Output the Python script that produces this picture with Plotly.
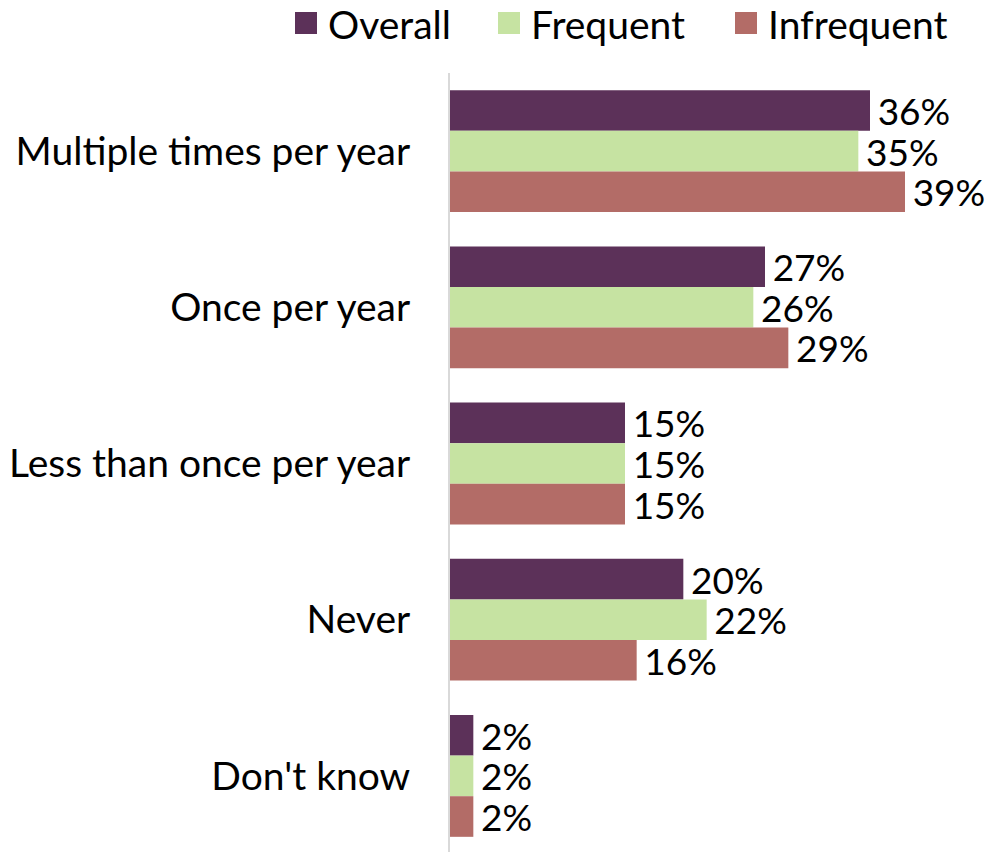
import plotly.graph_objects as go

# Dados
categories = ["Multiple times per year", "Once per year", "Less than once per year", "Never", "Don't know"]
series_names = ["Overall", "Frequent", "Infrequent"]
overall = [36, 27, 15, 20, 2]
frequent = [35, 26, 15, 22, 2]
infrequent = [39, 29, 15, 16, 2]

FONT = "Lato, Calibri, sans-serif"
LABEL_SIZE = 37
TICK_SIZE = 39
LEGEND_SIZE = 39
COLORS = ["#5C3159", "#C6E3A2", "#B36C67"]

# Geometria da área de plotagem (px dentro da figura)
W, H = 996, 852
L, R, T, B = 442, 29, 65, 6
PLOT_W = W - L - R
PLOT_H = H - T - B


def px_x(fx):
    return (fx - L) / PLOT_W


def px_y(fy):
    return (H - B - fy) / PLOT_H


fig = go.Figure()
for name, vals, color in zip(series_names, [overall, frequent, infrequent], COLORS):
    fig.add_trace(go.Bar(
        y=categories,
        x=vals,
        name=name,
        orientation="h",
        marker=dict(color=color, line=dict(width=0)),
        text=[f"\u2009{v}%" for v in vals],
        textposition="outside",
        constraintext="none",
        textfont=dict(family=FONT, size=LABEL_SIZE, color="#000000"),
        cliponaxis=False,
        showlegend=False,
    ))

# Legenda manual (quadrados maiores que os da legenda nativa)
legend_x = [287, 490, 727]
shapes = []
annotations = []
for name, color, lx in zip(series_names, COLORS, legend_x):
    shapes.append(dict(
        type="rect", xref="paper", yref="paper",
        x0=px_x(lx), x1=px_x(lx + 22), y0=px_y(26), y1=px_y(4),
        fillcolor=color, line=dict(width=0),
    ))
    annotations.append(dict(
        text=name, xref="paper", yref="paper",
        x=px_x(lx + 31), y=px_y(16), xanchor="left", yanchor="middle",
        showarrow=False, font=dict(family=FONT, size=LEGEND_SIZE, color="#000000"),
    ))

fig.update_layout(
    width=W,
    height=H,
    barmode="group",
    bargap=0.22,
    bargroupgap=0,
    paper_bgcolor="white",
    plot_bgcolor="white",
    margin=dict(l=L, r=R, t=T, b=B, autoexpand=False),
    font=dict(family=FONT, size=LABEL_SIZE, color="#000000"),
    showlegend=False,
    shapes=shapes,
    annotations=annotations,
)
fig.update_xaxes(range=[0, 45], visible=False, showgrid=False)
fig.update_yaxes(
    autorange="reversed",
    showline=True, linecolor="#D9D9D9", linewidth=2,
    showgrid=False, ticks="",
    ticklabelstandoff=30,
    tickfont=dict(family=FONT, size=TICK_SIZE, color="#000000"),
)

fig.write_html("out.html")
